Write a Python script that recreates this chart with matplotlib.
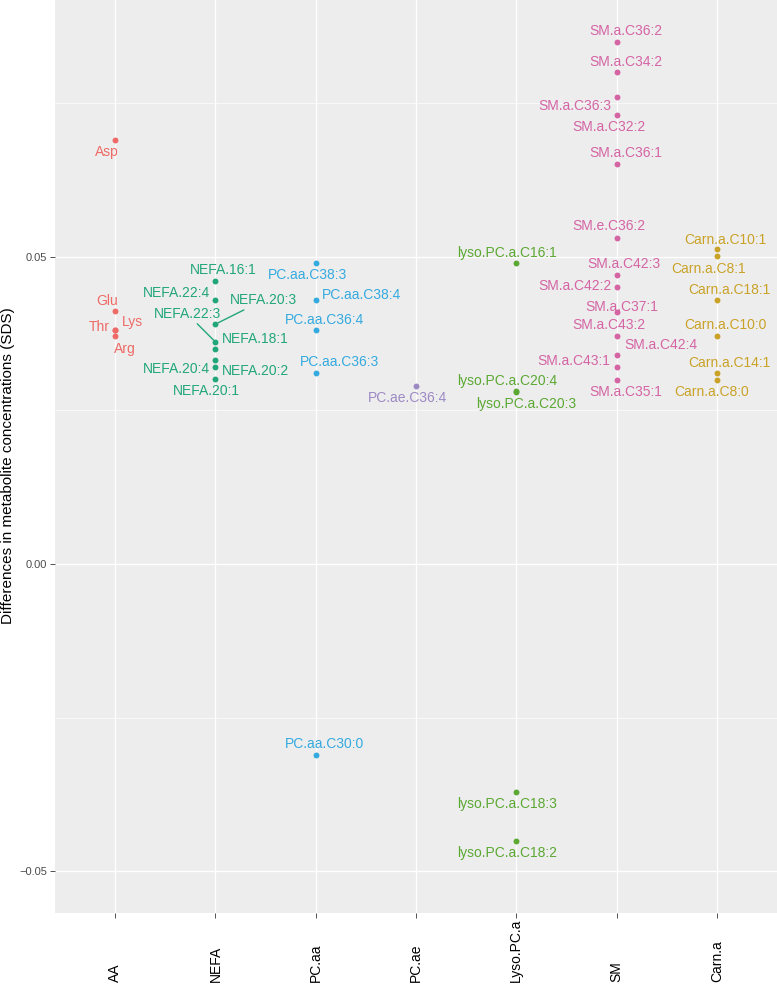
import matplotlib
matplotlib.use("Agg")
import matplotlib.pyplot as plt
from matplotlib.transforms import blended_transform_factory

plt.rcParams['font.family'] = ['Liberation Sans', 'DejaVu Sans']

# ---------------- data ----------------
categories = ["AA", "NEFA", "PC.aa", "PC.ae", "Lyso.PC.a", "SM", "Carn.a"]

aa_names = ["Asp", "Glu", "Thr", "Lys", "Arg"]
aa_values = [0.0689, 0.0411, 0.0381, 0.0380, 0.0370]

nefa_names = ["NEFA.16:1", "NEFA.22:4", "NEFA.20:3", "NEFA.22:3", "NEFA.18:1",
              "NEFA.20:4", "NEFA.20:2", "NEFA.20:1"]
nefa_values = [0.0460, 0.0430, 0.0390, 0.0361, 0.0349, 0.0332, 0.0320, 0.0301]

pcaa_names = ["PC.aa.C38:3", "PC.aa.C38:4", "PC.aa.C36:4", "PC.aa.C36:3", "PC.aa.C30:0"]
pcaa_values = [0.0490, 0.0430, 0.0380, 0.0310, -0.0310]

pcae_names = ["PC.ae.C36:4"]
pcae_values = [0.0290]

lyso_names = ["lyso.PC.a.C16:1", "lyso.PC.a.C20:4", "lyso.PC.a.C20:3",
              "lyso.PC.a.C18:3", "lyso.PC.a.C18:2"]
lyso_values = [0.0490, 0.0281, 0.0280, -0.0370, -0.0450]

sm_names = ["SM.a.C36:2", "SM.a.C34:2", "SM.a.C36:3", "SM.a.C32:2", "SM.a.C36:1",
            "SM.e.C36:2", "SM.a.C42:3", "SM.a.C42:2", "SM.a.C37:1", "SM.a.C43:2",
            "SM.a.C42:4", "SM.a.C43:1", "SM.a.C35:1"]
sm_values = [0.0849, 0.0800, 0.0760, 0.0730, 0.0650,
             0.0530, 0.0470, 0.0450, 0.0410, 0.0370,
             0.0340, 0.0321, 0.0300]

carn_names = ["Carn.a.C10:1", "Carn.a.C8:1", "Carn.a.C18:1", "Carn.a.C10:0",
              "Carn.a.C14:1", "Carn.a.C8:0"]
carn_values = [0.0512, 0.0501, 0.0430, 0.0370, 0.0311, 0.0300]

y_ticks = [-0.05, 0.00, 0.05]
y_minor = [-0.025, 0.025, 0.075]

# ---------------- styling / layout ----------------
group_colors = ["#EE6A66", "#21A67A", "#34AADF", "#9C8AC4", "#5BA833", "#D564A4", "#C9A227"]

# label offsets in pixels (dx right, dy down) relative to the point
label_offsets = {
    "Asp": (-8, 12), "Glu": (-8, -10), "Thr": (-16, -3), "Lys": (17, -8), "Arg": (10, 13),
    "NEFA.16:1": (8, -11), "NEFA.22:4": (-39, -7), "NEFA.20:3": (48, -24),
    "NEFA.22:3": (-28, -28), "NEFA.18:1": (40, -10), "NEFA.20:4": (-39, 9),
    "NEFA.20:2": (40, 4), "NEFA.20:1": (-9, 12),
    "PC.aa.C38:3": (-8, 12), "PC.aa.C38:4": (46, -5), "PC.aa.C36:4": (9, -10),
    "PC.aa.C36:3": (24, -11), "PC.aa.C30:0": (9, -11),
    "PC.ae.C36:4": (-9, 12),
    "lyso.PC.a.C16:1": (-9, -10), "lyso.PC.a.C20:4": (-9, -10), "lyso.PC.a.C20:3": (10, 12),
    "lyso.PC.a.C18:3": (-9, 12), "lyso.PC.a.C18:2": (-9, 12),
    "SM.a.C36:2": (9, -11), "SM.a.C34:2": (9, -10), "SM.a.C36:3": (-42, 9),
    "SM.a.C32:2": (-8, 12), "SM.a.C36:1": (9, -11), "SM.e.C36:2": (-8, -12),
    "SM.a.C42:3": (7, -11), "SM.a.C42:2": (-42, -1), "SM.a.C37:1": (5, -5),
    "SM.a.C43:2": (-8, -11), "SM.a.C42:4": (44, -10), "SM.a.C43:1": (-43, -6),
    "SM.a.C35:1": (9, 12),
    "Carn.a.C10:1": (9, -9), "Carn.a.C8:1": (-8, 13), "Carn.a.C18:1": (13, -10),
    "Carn.a.C10:0": (9, -11), "Carn.a.C14:1": (13, -10), "Carn.a.C8:0": (-5, 12),
}
segment_labels = {"NEFA.20:3", "NEFA.22:3"}

groups = [
    (aa_names, aa_values),
    (nefa_names, nefa_values),
    (pcaa_names, pcaa_values),
    (pcae_names, pcae_values),
    (lyso_names, lyso_values),
    (sm_names, sm_values),
    (carn_names, carn_values),
]

fig = plt.figure(figsize=(7.77, 9.90), dpi=100)
ax = fig.add_axes([55 / 777, 77 / 990, 1 - 55 / 777, 1 - 77 / 990])
ax.set_facecolor("#EDEDED")
for s in ax.spines.values():
    s.set_visible(False)

ax.set_xlim(0.4, len(categories) + 0.6)
ax.set_ylim(-0.05675, 0.09171)

# grid
for yv in y_minor:
    ax.axhline(yv, color="white", lw=0.45, zorder=0.5)
for yv in y_ticks:
    ax.axhline(yv, color="white", lw=0.9, zorder=0.6)
for i in range(len(categories)):
    ax.axvline(i + 1, color="white", lw=0.9, zorder=0.6)

for gi, (names, vals) in enumerate(groups):
    col = group_colors[gi]
    xs = [gi + 1] * len(vals)
    ax.scatter(xs, vals, s=18, color=col, zorder=3, linewidths=0)
    for n, v in zip(names, vals):
        dx, dy = label_offsets[n]
        if n in segment_labels:
            ax.annotate(n, xy=(gi + 1, v), xytext=(dx, -dy), textcoords="offset pixels",
                        ha="center", va="center", fontsize=10, color=col, zorder=4,
                        arrowprops=dict(arrowstyle="-", color=col, lw=1.0,
                                        shrinkA=0, shrinkB=2))
        else:
            ax.annotate(n, xy=(gi + 1, v), xytext=(dx, -dy), textcoords="offset pixels",
                        ha="center", va="center", fontsize=10, color=col, zorder=4)

# axes ticks
ax.set_yticks(y_ticks)
ax.set_yticklabels([("{:.2f}".format(t)).replace("-", "\u2212") for t in y_ticks],
                   fontsize=8, color="#4D4D4D")
ax.set_xticks(range(1, len(categories) + 1))
ax.set_xticklabels([])
ax.tick_params(axis="both", length=3.5, width=0.6, color="#333333", pad=2)

trans = blended_transform_factory(ax.transData, fig.transFigure)
for i, c in enumerate(categories):
    ax.text(i + 1, (990 - 982) / 990, c, rotation=90, ha="center", va="bottom",
            fontsize=10, color="black", transform=trans, clip_on=False)

ax.set_ylabel("Differences in metabolite concentrations (SDS)", fontsize=11, labelpad=4)
ax.yaxis.set_label_coords(-40 / 722, 0.49)

fig.savefig("out.png", dpi=100)
